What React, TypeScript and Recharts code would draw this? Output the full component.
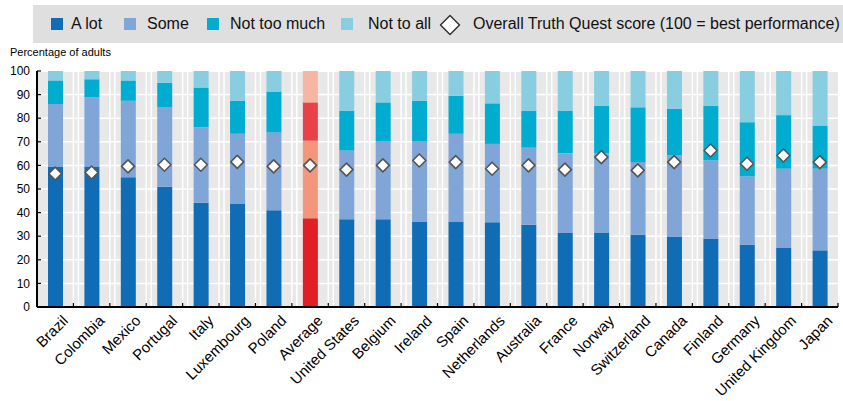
import React from 'react';
import { ComposedChart, Bar, Line, XAxis, YAxis, CartesianGrid, Cell, Legend, Label } from 'recharts';

const categories = ['Brazil', 'Colombia', 'Mexico', 'Portugal', 'Italy', 'Luxembourg', 'Poland', 'Average', 'United States', 'Belgium', 'Ireland', 'Spain', 'Netherlands', 'Australia', 'France', 'Norway', 'Switzerland', 'Canada', 'Finland', 'Germany', 'United Kingdom', 'Japan'];
const aLot = [59.5, 59.5, 55, 51, 44.2, 43.6, 41, 37.6, 37.2, 37.2, 36.2, 36.2, 35.9, 34.8, 31.6, 31.6, 30.6, 29.9, 28.8, 26.4, 25, 24];
const some = [26.5, 29.3, 32.4, 33.6, 32, 29.8, 33, 32.9, 29.1, 32.9, 33.9, 37.2, 33.2, 32.7, 33.6, 33.6, 30.8, 34.3, 33.3, 29, 33.6, 34.6];
const notTooMuch = [10, 7.7, 8.6, 10.4, 16.8, 14, 17.3, 16.2, 16.9, 16.6, 17.3, 16.1, 17.2, 15.7, 18, 20.1, 23.2, 19.7, 23.2, 22.9, 22.7, 18.3];
const notAtAll = [4, 3.5, 4, 5, 7, 12.6, 8.7, 13.3, 16.8, 13.3, 12.6, 10.5, 13.7, 16.8, 16.8, 14.7, 15.4, 16.1, 14.7, 21.7, 18.7, 23.1];
const score = [56.5, 57, 59.6, 60.3, 60.3, 61.5, 59.6, 60, 58.2, 60, 62.1, 61.4, 58.6, 60, 58.2, 63.5, 57.9, 61.4, 66.3, 60.7, 64.2, 61.4];
const yTicks = [0, 10, 20, 30, 40, 50, 60, 70, 80, 90, 100];
const highlight = 'Average';

const data = categories.map((name, i) => ({
  name,
  aLot: aLot[i],
  some: some[i],
  notTooMuch: notTooMuch[i],
  notAtAll: notAtAll[i],
  score: score[i],
}));

const FONT = '"Liberation Sans", Arial, sans-serif';

const series = [
  { key: 'aLot', label: 'A lot', blue: '#106db5', red: '#e21f26' },
  { key: 'some', label: 'Some', blue: '#7fa6d7', red: '#f4967b' },
  { key: 'notTooMuch', label: 'Not too much', blue: '#00acd0', red: '#e8414a' },
  { key: 'notAtAll', label: 'Not to all', blue: '#88cde0', red: '#f7b5a4' },
];

const Diamond = (props: any) => {
  const { cx, cy } = props;
  if (cx == null || cy == null) return null;
  const r = 6.5;
  return (
    <path
      d={`M${cx},${cy - r}L${cx + r},${cy}L${cx},${cy + r}L${cx - r},${cy}Z`}
      fill="#fff"
      stroke="#555"
      strokeWidth={1.6}
      strokeLinejoin="round"
    />
  );
};

const XTick = (props: any) => {
  const { x, y, payload } = props;
  const half = payload && payload.offset ? payload.offset : 18.2;
  const ax = x + 10;
  const ay = y + 11;
  return (
    <g>
      <line x1={x + half} x2={x + half} y1={y - 4} y2={y} stroke="#000" strokeWidth={1.2} />
      <text
        x={ax}
        y={ay}
        dy="0.35em"
        textAnchor="end"
        transform={`rotate(-45 ${ax} ${ay})`}
        fontSize={15}
        fontFamily={FONT}
        fill="#000"
      >
        {payload.value}
      </text>
    </g>
  );
};

const YTick = (props: any) => {
  const { x, y, payload } = props;
  return (
    <g>
      <line x1={x} x2={x + 4} y1={y} y2={y} stroke="#000" strokeWidth={1.2} />
      <text x={x - 7} y={y} dy="0.35em" textAnchor="end" fontSize={12} fontFamily={FONT} fill="#000">
        {payload.value}
      </text>
    </g>
  );
};

const vGen = (props: any) => {
  const off = props && props.offset;
  if (!off) return [];
  const n = categories.length;
  const bw = off.width / n;
  const pts: number[] = [];
  for (let i = 1; i < n; i++) {
    const b = off.left + i * bw;
    pts.push(b, b + 5);
  }
  return pts;
};

const LegendContent = () => {
  const sq = (left: number, color: string) => (
    <span style={{ position: 'absolute', left, top: 13, width: 12, height: 12, background: color }} />
  );
  const txt = (left: number, s: string) => (
    <span style={{ position: 'absolute', left, top: 9, lineHeight: '20px', fontSize: 16, whiteSpace: 'nowrap' }}>{s}</span>
  );
  return (
    <div style={{ position: 'relative', width: 810, height: 38, background: '#dfdfdf', fontFamily: FONT, color: '#111' }}>
      {sq(18, series[0].blue)}
      {txt(38, series[0].label)}
      {sq(91, series[1].blue)}
      {txt(114, series[1].label)}
      {sq(174, series[2].blue)}
      {txt(197, series[2].label)}
      {sq(308, series[3].blue)}
      {txt(335, series[3].label)}
      <svg style={{ position: 'absolute', left: 406, top: 9 }} width={22} height={22}>
        <path d="M11,1.5L20.5,11L11,20.5L1.5,11Z" fill="#fff" stroke="#333" strokeWidth={1.5} strokeLinejoin="round" />
      </svg>
      {txt(440, 'Overall Truth Quest score (100 = best performance)')}
    </div>
  );
};

export default function App() {
  return (
    <div style={{ position: 'absolute', left: 0, top: 0, width: 843, height: 401, background: '#fff' }}>
      <ComposedChart
        width={843}
        height={401}
        data={data}
        margin={{ top: 71, right: 5, left: 0, bottom: 0 }}
        barSize={15}
      >
        <CartesianGrid
          fill="#e8e8e8"
          stroke="#ffffff"
          strokeWidth={1.5}
          verticalCoordinatesGenerator={vGen}
        />
        <XAxis
          dataKey="name"
          type="category"
          height={94}
          tickSize={0}
          tickMargin={0}
          tickLine={false}
          interval={0}
          axisLine={{ stroke: '#000', strokeWidth: 2 }}
          tick={<XTick />}
        />
        <YAxis
          width={37}
          domain={[0, 100]}
          ticks={yTicks}
          tickSize={0}
          tickMargin={0}
          tickLine={false}
          interval={0}
          axisLine={{ stroke: '#000', strokeWidth: 2 }}
          tick={<YTick />}
        >
          <Label
            content={() => (
              <text x={10} y={56} fontSize={11} fontFamily={FONT} fill="#000">
                Percentage of adults
              </text>
            )}
          />
        </YAxis>
        <Legend
          layout="horizontal"
          verticalAlign="middle"
          align="center"
          content={<LegendContent />}
          wrapperStyle={{ position: 'absolute', top: 5, left: 33, width: 810, height: 38 }}
        />
        {series.map((s) => (
          <Bar key={s.key} dataKey={s.key} name={s.label} stackId="a" fill={s.blue} isAnimationActive={false}>
            {data.map((d) => (
              <Cell key={d.name} fill={d.name === highlight ? s.red : s.blue} />
            ))}
          </Bar>
        ))}
        <Line
          dataKey="score"
          name="Overall Truth Quest score (100 = best performance)"
          stroke="none"
          isAnimationActive={false}
          activeDot={false}
          legendType="diamond"
          dot={(p: any) => <Diamond key={`d-${p.index}`} {...p} />}
        />
      </ComposedChart>
    </div>
  );
}
